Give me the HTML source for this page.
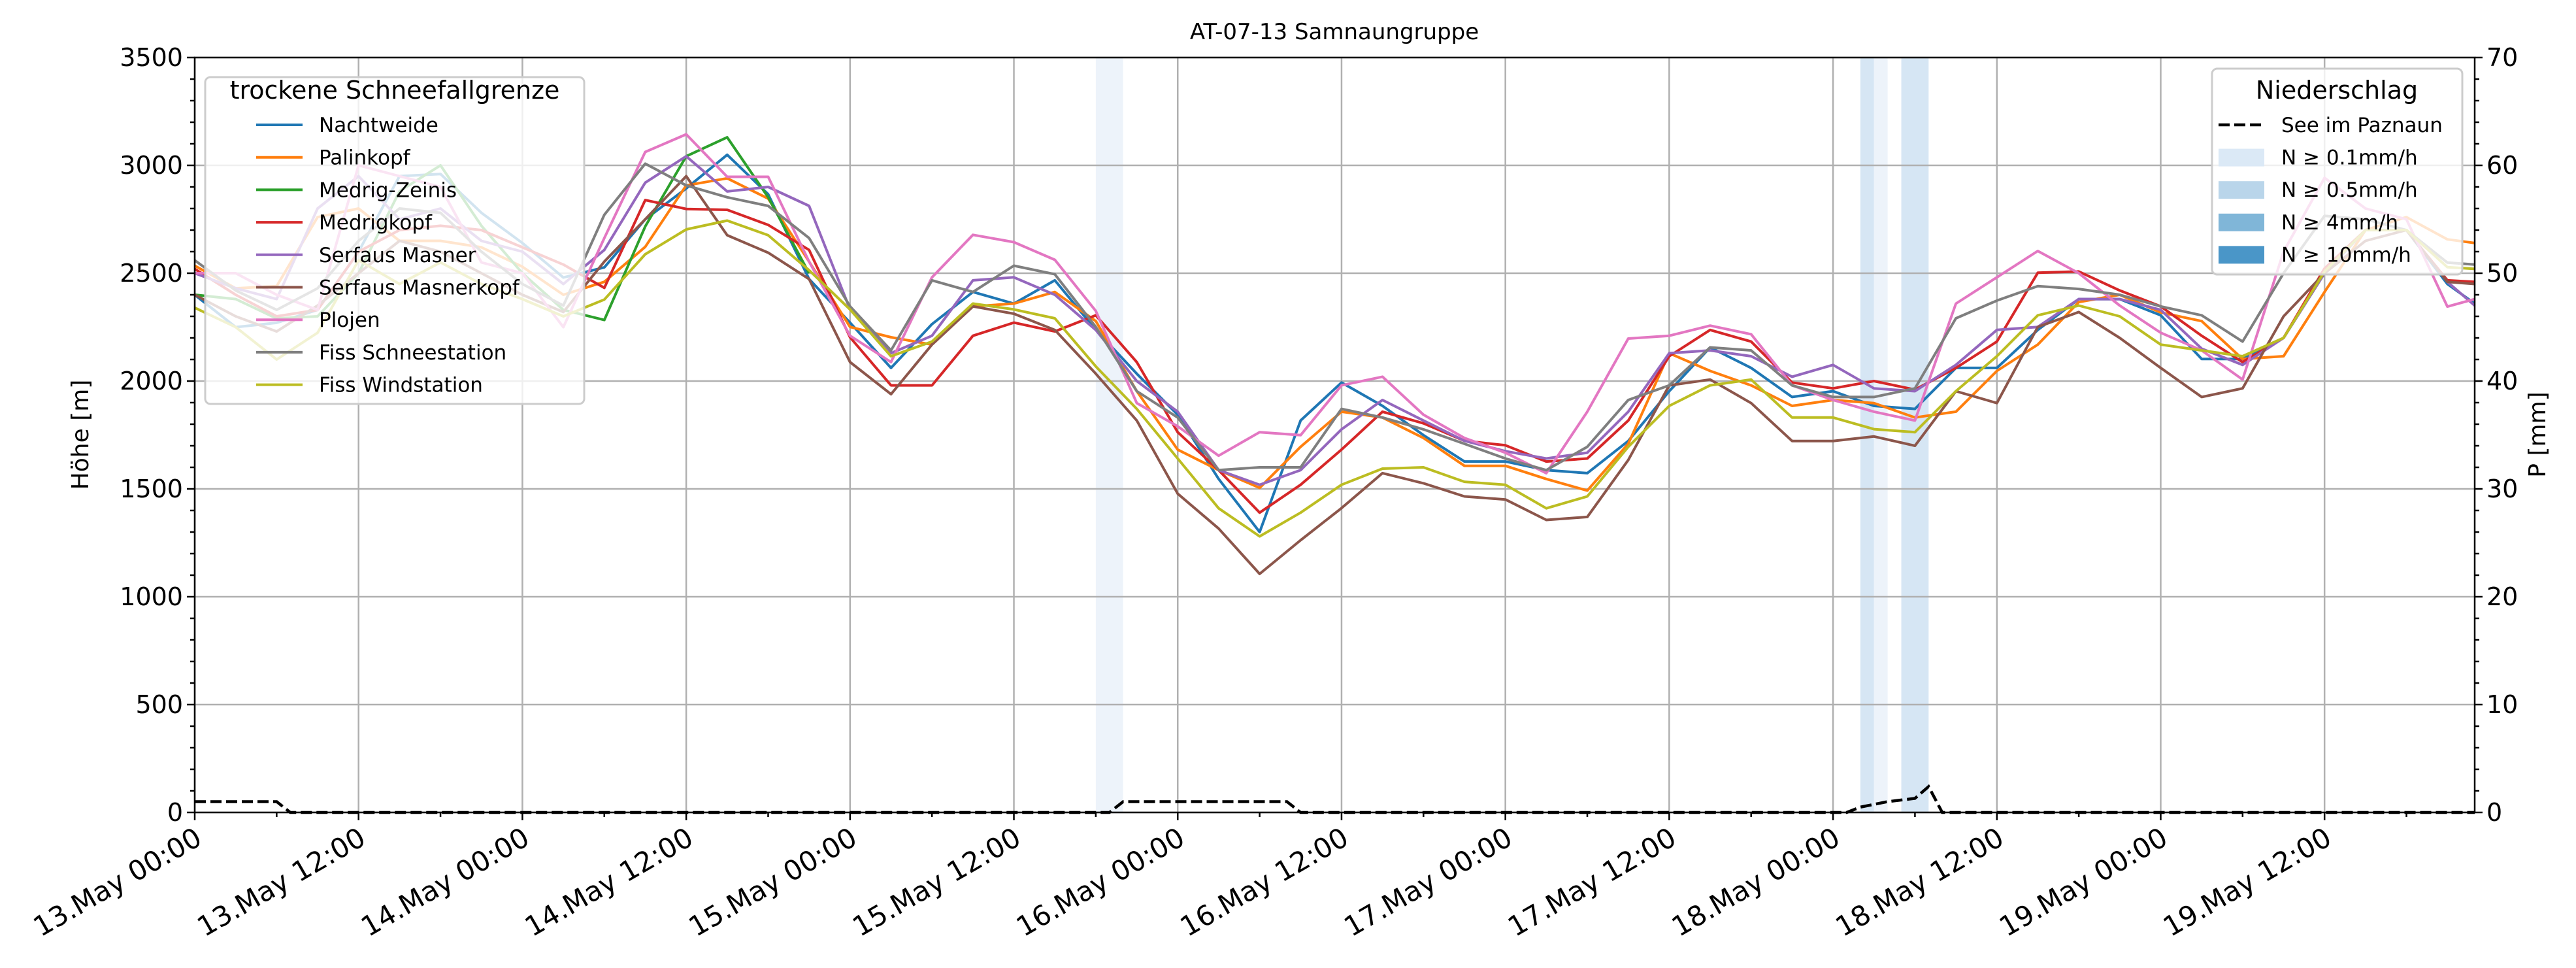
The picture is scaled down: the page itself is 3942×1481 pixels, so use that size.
<!DOCTYPE html>
<html><head><meta charset="utf-8"><style>
html,body{margin:0;padding:0;background:#fff;}
svg{display:block;font-family:"DejaVu Sans","Liberation Sans",sans-serif;}
</style></head><body>
<svg id="chart" width="3942" height="1481" viewBox="0 0 3942 1481" xmlns="http://www.w3.org/2000/svg">
<rect width="3942" height="1481" fill="#fff"/>
<g id="bands"></g>
<g id="grid"></g>
<g id="series"></g>
<g id="precip"></g>
<g id="axes"></g>
<g id="legends"></g>
<text x="2042" y="60" font-size="34" text-anchor="middle">AT-07-13 Samnaungruppe</text>
<text transform="translate(135,665) rotate(-90)" font-size="36" text-anchor="middle">Höhe [m]</text>
<text transform="translate(3895,665) rotate(-90)" font-size="36" text-anchor="middle">P [mm]</text>
</svg>
<script>
const hours=[0,3,6,9,12,15,18,21,24,27,30,33,36,39,42,45,48,51,54,57,60,63,66,69,72,75,78,81,84,87,90,93,96,99,102,105,108,111,114,117,120,123,126,129,132,135,138,141,144,147,150,153,156,159,162,165,167];
const seriesNames=["Nachtweide","Palinkopf","Medrig-Zeinis","Medrigkopf","Serfaus Masner","Serfaus Masnerkopf","Plojen","Fiss Schneestation","Fiss Windstation"];
const seriesColors=["#1f77b4","#ff7f0e","#2ca02c","#d62728","#9467bd","#8c564b","#e377c2","#7f7f7f","#bcbd22"];
const nachtweide=[2400,2250,2270,2330,2600,2950,2960,2780,2640,2480,2527,2750,2893,3049,2866,2473,2271,2061,2264,2413,2359,2467,2237,2034,1844,1546,1300,1817,1993,1885,1749,1627,1627,1587,1573,1722,1953,2156,2061,1926,1953,1885,1871,2061,2061,2237,2380,2380,2305,2102,2102,2200,2500,2700,2700,2450,2359];
const palinkopf=[2535,2430,2440,2760,2800,2650,2650,2620,2530,2400,2460,2622,2907,2940,2846,2554,2251,2203,2169,2346,2359,2413,2278,1953,1682,1587,1505,1695,1858,1831,1736,1607,1607,1546,1492,1709,2129,2047,1980,1885,1912,1898,1831,1858,2047,2169,2366,2400,2318,2278,2102,2115,2413,2700,2760,2657,2640];
const medrigZeinis=[2400,2380,2290,2300,2500,2880,3000,2720,2500,2330,2283,2717,3042,3130,2852,2500,null,null,null,null,null,null,null,null,null,null,null,null,null,null,null,null,null,null,null,null,null,null,null,null,null,null,null,null,null,null,null,null,null,null,null,null,null,null,null,null,null];
const medrigkopf=[2520,2400,2300,2330,2600,2700,2720,2700,2620,2540,2432,2839,2798,2794,2724,2608,2203,1980,1980,2210,2271,2230,2305,2088,1763,1587,1390,1519,1682,1858,1804,1723,1702,1627,1641,1817,2115,2237,2183,1993,1966,2000,1960,2061,2183,2502,2508,2420,2346,2210,2088,2200,2522,2700,2700,2467,2460];
const serfausMasner=[2500,2430,2380,2800,2950,2750,2800,2650,2600,2450,2608,2920,3042,2879,2900,2812,2332,2129,2210,2467,2481,2400,2237,2000,1858,1587,1519,1587,1776,1912,1817,1723,1675,1641,1668,1858,2129,2142,2115,2020,2075,1966,1953,2075,2237,2251,2380,2380,2330,2150,2075,2200,2500,2700,2700,2460,2350];
const serfausMasnerkopf=[2400,2300,2230,2350,2500,2650,2600,2500,2400,2320,2554,2750,2950,2676,2595,2473,2088,1939,2169,2346,2312,2237,2034,1817,1478,1316,1106,1262,1411,1573,1526,1465,1451,1356,1370,1634,1980,2007,1898,1722,1722,1743,1700,1953,1898,2251,2320,2200,2061,1926,1966,2300,2500,2650,2700,2460,2450];
const plojen=[2500,2500,2400,2330,3000,2950,2900,2550,2500,2250,2663,3062,3144,2947,2947,2554,2210,2088,2481,2678,2644,2562,2325,1898,1790,1654,1763,1749,1980,2020,1844,1736,1668,1573,1858,2197,2210,2257,2217,1980,1912,1858,1817,2359,2481,2603,2500,2350,2224,2142,2007,2600,2942,2800,2750,2345,2380];
const fissSchneestation=[2560,2420,2330,2430,2650,2800,2780,2600,2450,2350,2771,3008,2907,2852,2812,2663,2346,2142,2467,2413,2535,2495,2251,1953,1831,1587,1600,1600,1871,1831,1776,1709,1641,1587,1695,1912,1980,2156,2142,1980,1926,1926,1966,2291,2373,2440,2427,2400,2346,2305,2183,2500,2766,2750,2700,2549,2540];
const fissWindstation=[2340,2250,2100,2224,2560,2450,2550,2450,2380,2300,2378,2588,2703,2744,2676,2514,2332,2115,2183,2359,2332,2291,2068,1871,1641,1410,1280,1390,1519,1594,1600,1533,1519,1410,1465,1695,1885,1980,2007,1831,1831,1777,1763,1953,2115,2305,2350,2300,2169,2142,2115,2200,2508,2700,2700,2528,2520];
const precipHours=[0,6,7,67,68,80,81,121,122,124,126,127,128,167];
const precipValues=[1,1,0,0,1,1,0,0,0.5,1,1.3,2.4,0,0];
const bandStart=[66,122,123,125];
const bandEnd=[68,123,124,127];
const bandLevel=[0,1,0,1];
const xTickLabels=["13.May 00:00","13.May 12:00","14.May 00:00","14.May 12:00","15.May 00:00","15.May 12:00","16.May 00:00","16.May 12:00","17.May 00:00","17.May 12:00","18.May 00:00","18.May 12:00","19.May 00:00","19.May 12:00"];
const yTicks=[0,500,1000,1500,2000,2500,3000,3500];
const y2Ticks=[0,10,20,30,40,50,60,70];

const NS="http://www.w3.org/2000/svg";
const L=298,R=3787,T=88,B=1243,HMAX=167;
const x=h=>L+h*(R-L)/HMAX;
const yL=v=>B-v*(B-T)/3500;
const yR=p=>B-p*(B-T)/70;
function mk(tag,attrs,parent){const e=document.createElementNS(NS,tag);for(const k in attrs)e.setAttribute(k,attrs[k]);parent.appendChild(e);return e;}
const gB=document.getElementById('bands'),gG=document.getElementById('grid'),gS=document.getElementById('series'),gP=document.getElementById('precip'),gA=document.getElementById('axes'),gL=document.getElementById('legends');
const bandCols=["#edf3fa","#d6e6f4"];
bandStart.forEach((s,i)=>{const r=mk('rect',{x:x(s),y:T,width:x(bandEnd[i])-x(s),height:B-T,fill:bandCols[bandLevel[i]]},gB);

});
yTicks.forEach(v=>{const l=mk('line',{x1:L,x2:R,y1:yL(v),y2:yL(v),stroke:'#b0b0b0','stroke-width':2.5},gG);

});
xTickLabels.forEach((t,i)=>{const xx=x(i*12);const l=mk('line',{x1:xx,x2:xx,y1:T,y2:B,stroke:'#b0b0b0','stroke-width':2.5},gG);

});
const allSeries=[nachtweide,palinkopf,medrigZeinis,medrigkopf,serfausMasner,serfausMasnerkopf,plojen,fissSchneestation,fissWindstation];
allSeries.forEach((arr,si)=>{let d='';let pen=false;arr.forEach((v,i)=>{if(v===null){pen=false;return;}d+=(pen?'L':'M')+x(hours[i]).toFixed(1)+','+yL(v).toFixed(1);pen=true;});
const p=mk('path',{d:d,fill:'none',stroke:seriesColors[si],'stroke-width':4,'stroke-linejoin':'round'},gS);

});
{let d='';precipHours.forEach((h,i)=>{d+=(i?'L':'M')+x(h).toFixed(1)+','+yR(precipValues[i]).toFixed(1);});
const p=mk('path',{d:d,fill:'none',stroke:'#000','stroke-width':4.5,'stroke-dasharray':'17,7'},gP);

}
const fr=mk('rect',{x:L,y:T,width:R-L,height:B-T,fill:'none',stroke:'#000','stroke-width':2.5},gA);


for(let v=0;v<=3500;v+=100){const major=v%500===0;mk('line',{x1:L,x2:L-(major?12:7),y1:yL(v),y2:yL(v),stroke:'#000','stroke-width':2.5},gA);}
yTicks.forEach(v=>{const t=mk('text',{x:L-18,y:yL(v)+13,'font-size':38,'text-anchor':'end'},gA);t.textContent=v;

});
for(let p=0;p<=70;p+=2){const major=p%10===0;mk('line',{x1:R,x2:R+(major?12:7),y1:yR(p),y2:yR(p),stroke:'#000','stroke-width':2.5},gA);}
y2Ticks.forEach(p=>{const t=mk('text',{x:R+18,y:yR(p)+13,'font-size':38,'text-anchor':'start'},gA);t.textContent=p;

});
for(let h=0;h<=HMAX;h+=6){const major=h%12===0;mk('line',{x1:x(h),x2:x(h),y1:B,y2:B+(major?12:7),stroke:'#000','stroke-width':2.5},gA);}
xTickLabels.forEach((s,i)=>{const xx=x(i*12);const t=mk('text',{transform:`translate(${xx-2},${B+20}) rotate(-30)`,'font-size':42,'text-anchor':'end','dominant-baseline':'hanging'},gA);t.textContent=s;

});
{const g=mk('g',{},gL);
mk('rect',{x:314,y:118,width:580,height:500,rx:8,fill:'#fff','fill-opacity':0.8,stroke:'#cccccc','stroke-width':3},g);
const tt=mk('text',{x:604,y:151,'font-size':38,'text-anchor':'middle'},g);tt.textContent='trockene Schneefallgrenze';
seriesNames.forEach((n,i)=>{const yy=191+i*49.7;
const e=mk('g',{},g);


mk('line',{x1:392,x2:463,y1:yy,y2:yy,stroke:seriesColors[i],'stroke-width':4},e);
const t=mk('text',{x:488,y:yy+11,'font-size':31},e);t.textContent=n;});}
{const g=mk('g',{},gL);
mk('rect',{x:3385,y:105,width:383,height:315,rx:8,fill:'#fff','fill-opacity':0.8,stroke:'#cccccc','stroke-width':3},g);
const tt=mk('text',{x:3576,y:151,'font-size':38,'text-anchor':'middle'},g);tt.textContent='Niederschlag';
const labels=['See im Paznaun','N ≥ 0.1mm/h','N ≥ 0.5mm/h','N ≥ 4mm/h','N ≥ 10mm/h'];
const pcols=['#dbe9f6','#b9d5ea','#80b6d8','#4a96c8'];
labels.forEach((n,i)=>{const yy=191+i*49.6;
const e=mk('g',{},g);


if(i===0)mk('line',{x1:3395,x2:3465,y1:yy,y2:yy,stroke:'#000','stroke-width':4.5,'stroke-dasharray':'17,7'},e);
else mk('rect',{x:3395,y:yy-13,width:70,height:27,fill:pcols[i-1]},e);
const t=mk('text',{x:3491,y:yy+11,'font-size':31},e);t.textContent=n;});}
</script>
</body></html>
